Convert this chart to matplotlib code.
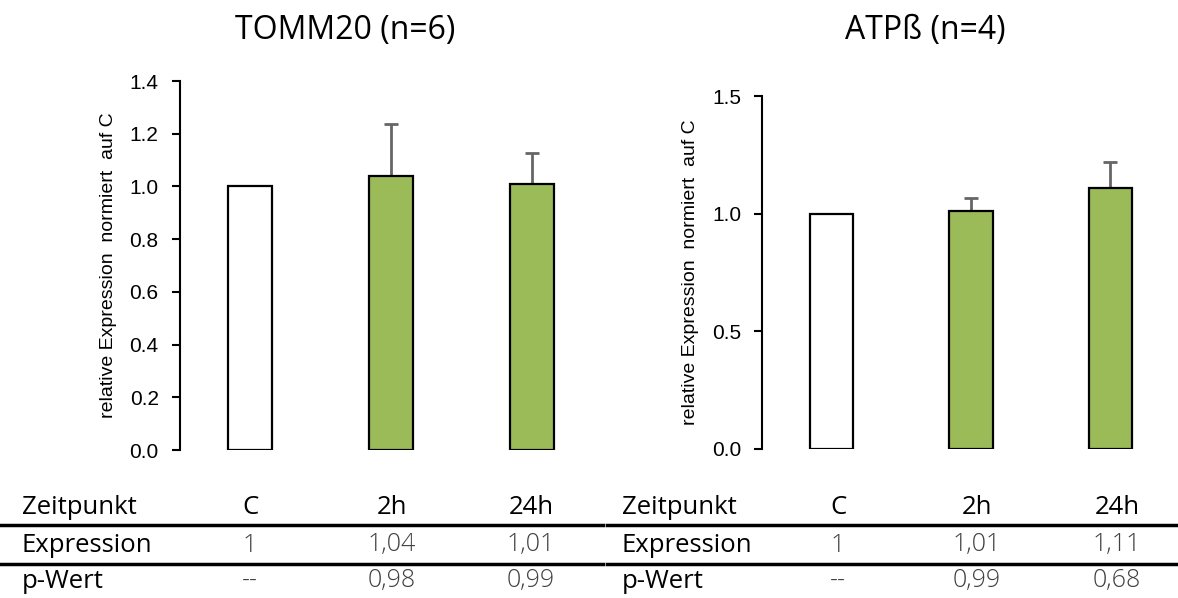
import matplotlib
matplotlib.use("Agg")
import matplotlib.pyplot as plt
from matplotlib.lines import Line2D

W, H = 1178, 598

# expression data, normalised to control C
groups = ["C", "2h", "24h"]
tomm20_mean = [1.00, 1.04, 1.01]
tomm20_sd = [0.0, 0.195, 0.115]
tomm20_p = ["--", "0,98", "0,99"]
atpb_mean = [1.00, 1.01, 1.11]
atpb_sd = [0.0, 0.055, 0.11]
atpb_p = ["--", "0,99", "0,68"]

bar_colors = ["white", "#9bbb59", "#9bbb59"]
GREY = "#666666"

plt.rcParams['font.family'] = ['Open Sans', 'DejaVu Sans']


def px_axes(fig, x0, y0, x1, y1):
    # axes from pixel box (top-left origin)
    return fig.add_axes([x0 / W, 1 - y1 / H, (x1 - x0) / W, (y1 - y0) / H])


def bar_panel(ax, means, sds, ymax, ticks, title, title_x):
    x = range(len(means))
    ax.bar(x, means, width=0.31, color=bar_colors, edgecolor="black",
           linewidth=1.6, zorder=2)
    ax.errorbar(x, means, yerr=[[0] * len(sds), sds], fmt="none",
                ecolor=GREY, elinewidth=2, capsize=5, capthick=2, zorder=1)
    ax.set_xlim(-0.5, 2.5)
    ax.set_ylim(0, ymax)
    ax.set_yticks(ticks)
    ax.set_yticklabels(["%.1f" % t for t in ticks], fontsize=15,
                       family=['Liberation Sans', 'DejaVu Sans'])
    ax.set_xticks([])
    for s in ["top", "right", "bottom"]:
        ax.spines[s].set_visible(False)
    ax.spines["left"].set_linewidth(1.5)
    ax.tick_params(axis="y", direction="out", length=6, width=1.5, pad=9)
    ax.set_ylabel("relative Expression  normiert  auf C", fontsize=14,
                  labelpad=9, family=['Liberation Sans', 'DejaVu Sans'])
    fig.text(title_x / W, 1 - 30 / H, title, fontsize=23, ha="center",
             va="center")


def table(fig, x_label, x_cols, x_line0, x_line1, means, pvals):
    rows_y = [507, 545, 581]
    fig.text(x_label / W, 1 - rows_y[0] / H, "Zeitpunkt", fontsize=18.5,
             va="center")
    fig.text(x_label / W, 1 - rows_y[1] / H, "Expression", fontsize=18.5,
             va="center")
    fig.text(x_label / W, 1 - rows_y[2] / H, "p-Wert", fontsize=18.5,
             va="center")
    for xc, g, m, p in zip(x_cols, groups, means, pvals):
        fig.text(xc / W, 1 - rows_y[0] / H, g, fontsize=18.5, ha="center",
                 va="center")
        val = "1" if m == 1 else ("%.2f" % m).replace(".", ",")
        fig.text(xc / W, 1 - rows_y[1] / H, val, fontsize=18, ha="center",
                 va="center", color="#404040", fontweight="light")
        fig.text(xc / W, 1 - rows_y[2] / H, p, fontsize=18, ha="center",
                 va="center", color="#404040", fontweight="light")
    for yl in [525, 564]:
        fig.add_artist(Line2D([x_line0 / W, x_line1 / W],
                              [1 - yl / H, 1 - yl / H], color="black",
                              linewidth=2.5, transform=fig.transFigure))


fig = plt.figure(figsize=(W / 100, H / 100), dpi=100)

ax1 = px_axes(fig, 179.5, 81, 602.5, 450)
bar_panel(ax1, tomm20_mean, tomm20_sd, 1.4,
          [0.0, 0.2, 0.4, 0.6, 0.8, 1.0, 1.2, 1.4], "TOMM20 (n=6)", 345)

ax2 = px_axes(fig, 762, 96, 1180, 449)
bar_panel(ax2, atpb_mean, atpb_sd, 1.5, [0.0, 0.5, 1.0, 1.5],
          "ATPß (n=4)", 925)

table(fig, 22, [250, 392, 531], 0, 603, tomm20_mean, tomm20_p)
table(fig, 622, [838, 977, 1117], 607, 1178, atpb_mean, atpb_p)

fig.savefig("out.png", dpi=100)
